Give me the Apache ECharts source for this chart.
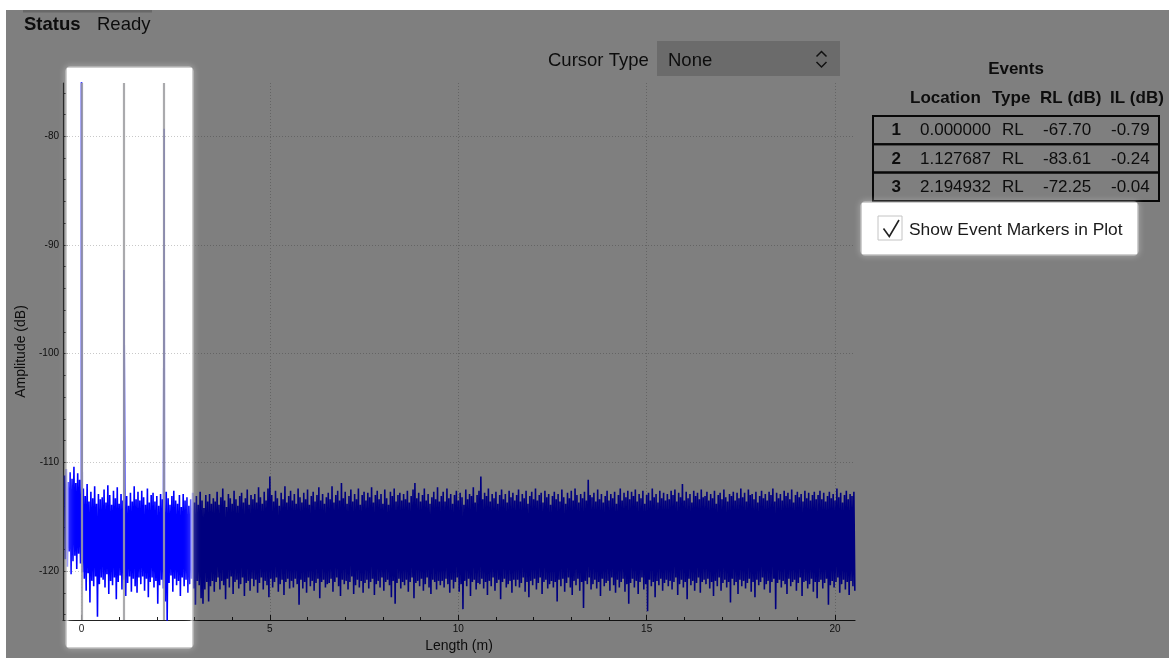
<!DOCTYPE html>
<html><head><meta charset="utf-8">
<script src="https://cdn.jsdelivr.net/npm/echarts@6/dist/echarts.min.js"></script>
<style>html,body{margin:0;padding:0;background:#fff;}#c{width:1169px;height:658px;}</style>
</head><body><div id="c"></div>
<script>
// ---- data ----
const startX = -0.45;   // first sample position (m)
const stepX = 0.05;     // sample spacing (m)
// upper excursion of the trace in each sample slot (dB)
const hi = [
-111.2,-110.6,-111.8,-110.9,-111.5,-110.4,-111.9,-111.0,-111.6,-112.2,-112.4,-113.1,-112.0,-113.6,-112.7,-113.3,-112.2,-113.8,-112.9,-113.4,
-113.2,-112.5,-113.7,-112.1,-113.0,-113.9,-112.6,-113.3,-112.3,-113.8,-112.9,-113.5,-112.4,-113.1,-114.0,-112.8,-113.6,-112.2,-113.4,-112.7,
-113.5,-112.6,-113.2,-113.9,-112.4,-113.7,-113.0,-112.8,-113.6,-113.1,-114.0,-112.9,-113.4,-113.8,-112.7,-113.3,-113.9,-113.1,-112.6,-113.5,
-113.8,-113.0,-114.1,-112.9,-113.5,-113.2,-114.0,-113.4,-112.8,-113.7,-113.1,-113.9,-112.7,-113.5,-114.2,-113.0,-113.6,-112.9,-113.8,-113.3,
-113.6,-112.7,-113.9,-113.2,-112.4,-113.5,-114.1,-112.9,-113.3,-113.8,-112.6,-113.4,-114.0,-113.1,-112.8,-113.7,-113.3,-112.5,-113.9,-113.0,
-113.4,-112.9,-113.7,-112.3,-113.2,-113.8,-112.7,-113.5,-112.4,-111.3,-113.0,-113.6,-112.6,-113.3,-114.0,-112.8,-113.4,-112.2,-113.7,-113.1,
-112.6,-113.5,-112.9,-113.8,-112.4,-113.2,-113.7,-112.8,-113.4,-112.5,-113.9,-113.1,-112.7,-113.6,-113.0,-112.3,-113.5,-112.9,-113.8,-113.2,
-112.8,-113.4,-112.2,-113.7,-113.0,-112.6,-113.5,-111.9,-113.3,-112.7,-113.8,-113.1,-112.5,-113.6,-112.9,-113.4,-112.4,-113.9,-113.0,-112.7,
-113.5,-112.8,-113.2,-112.3,-113.7,-113.0,-112.6,-113.4,-112.9,-113.8,-112.5,-113.3,-113.9,-112.7,-113.1,-112.4,-113.6,-113.0,-112.8,-113.5,
-112.9,-113.4,-112.6,-113.7,-113.1,-112.5,-111.9,-113.3,-112.8,-113.6,-113.0,-112.4,-113.5,-112.9,-113.8,-113.2,-112.7,-113.4,-112.3,-113.6,
-113.1,-112.7,-113.6,-112.4,-113.3,-112.9,-113.8,-113.0,-112.6,-113.5,-112.8,-113.2,-113.9,-112.5,-113.4,-112.9,-113.1,-112.3,-113.7,-113.0,
-112.6,-111.3,-113.4,-112.8,-113.1,-112.4,-113.6,-112.9,-113.3,-112.7,-113.8,-113.0,-112.5,-113.4,-112.9,-113.7,-112.6,-113.2,-112.8,-113.5,
-113.0,-112.5,-113.6,-112.9,-113.3,-112.6,-113.8,-113.1,-112.7,-113.4,-112.4,-113.5,-113.0,-112.8,-113.7,-112.6,-113.2,-112.9,-113.9,-113.1,
-112.7,-113.4,-112.9,-113.6,-112.5,-113.2,-113.8,-112.8,-113.3,-112.6,-113.5,-112.4,-113.0,-113.7,-112.9,-113.3,-112.7,-113.5,-111.6,-113.0,
-113.2,-112.8,-113.6,-112.5,-113.4,-112.9,-113.7,-113.1,-112.6,-113.5,-112.9,-113.3,-112.7,-113.8,-113.0,-112.4,-113.5,-112.8,-113.2,-112.6,
-113.4,-112.7,-113.1,-112.5,-113.6,-112.9,-113.3,-112.6,-113.8,-113.0,-112.8,-113.5,-112.4,-113.2,-112.9,-113.7,-112.6,-113.3,-112.8,-113.5,
-112.9,-113.4,-112.6,-113.0,-112.5,-113.6,-112.8,-113.2,-112.0,-113.5,-112.7,-113.3,-112.9,-113.7,-112.6,-113.1,-112.8,-113.4,-112.5,-113.2,
-113.1,-112.7,-113.5,-112.9,-113.3,-112.6,-113.8,-113.0,-112.8,-113.4,-112.5,-113.2,-113.6,-112.9,-113.1,-112.7,-113.5,-112.8,-113.3,-112.4,
-113.2,-112.8,-113.6,-112.5,-113.0,-112.9,-113.4,-112.7,-113.7,-113.1,-112.6,-113.3,-112.9,-113.5,-112.7,-113.0,-112.4,-113.6,-112.8,-113.3,
-112.9,-113.5,-112.6,-113.1,-112.8,-113.4,-112.5,-113.7,-113.0,-112.7,-113.2,-112.9,-113.6,-112.6,-113.3,-112.8,-113.5,-113.0,-112.7,-113.4,
-113.0,-112.6,-113.4,-112.8,-113.6,-113.1,-112.7,-113.3,-112.9,-113.5,-112.4,-113.2,-112.8,-113.7,-113.0,-112.6,-113.4,-112.9,-113.1,-112.7
];
// lower excursion of the trace in each sample slot (dB)
const lo = [
-118.9,-119.6,-118.2,-120.3,-119.1,-118.6,-119.8,-118.4,-119.3,-120.1,-120.7,-121.8,-120.2,-122.9,-120.9,-121.4,-120.5,-124.2,-121.2,-120.6,
-120.8,-121.5,-120.3,-122.1,-120.9,-121.3,-120.6,-122.6,-121.0,-120.4,-121.7,-120.8,-122.3,-121.1,-120.5,-121.9,-120.7,-121.4,-122.0,-120.6,
-121.2,-120.5,-121.8,-120.7,-122.4,-121.0,-120.6,-121.5,-120.9,-123.0,-121.3,-120.8,-121.6,-122.8,-124.6,-121.1,-120.4,-121.9,-120.7,-121.3,
-120.9,-122.3,-120.6,-121.4,-120.8,-122.0,-121.2,-120.7,-121.6,-123.1,-120.9,-121.3,-122.5,-123.0,-121.7,-121.0,-122.8,-121.4,-120.9,-121.9,
-121.0,-120.6,-121.7,-120.9,-121.3,-122.6,-120.7,-121.5,-120.5,-122.1,-121.0,-120.8,-121.6,-121.2,-120.6,-122.3,-121.1,-120.9,-121.8,-120.7,
-121.4,-120.8,-122.0,-121.1,-120.6,-121.7,-120.9,-121.3,-122.4,-120.7,-121.5,-121.0,-120.6,-121.9,-121.2,-120.8,-122.2,-121.0,-120.7,-121.6,
-120.9,-121.5,-120.7,-121.2,-123.1,-120.8,-121.6,-121.0,-122.0,-120.6,-121.4,-120.9,-121.8,-121.1,-120.7,-122.5,-121.0,-120.8,-121.5,-121.2,
-121.1,-120.7,-121.9,-121.0,-120.6,-121.4,-122.3,-120.8,-121.2,-120.9,-121.7,-121.0,-120.5,-122.1,-121.3,-120.8,-121.5,-120.9,-122.0,-121.1,
-120.8,-121.6,-121.0,-120.7,-122.2,-121.2,-120.9,-121.5,-120.6,-121.8,-121.0,-120.8,-121.3,-122.4,-120.9,-123.0,-121.1,-120.7,-121.6,-121.0,
-121.3,-120.8,-121.9,-121.0,-120.6,-122.5,-121.1,-120.9,-121.4,-120.7,-121.8,-121.2,-120.6,-121.5,-122.1,-120.8,-121.0,-121.7,-120.9,-121.3,
-120.9,-121.5,-120.7,-121.2,-122.0,-120.8,-121.6,-121.0,-120.6,-121.9,-121.2,-123.5,-120.9,-121.4,-120.7,-122.3,-121.0,-120.8,-121.7,-121.1,
-121.2,-120.7,-121.6,-121.0,-122.2,-120.9,-121.4,-120.6,-121.8,-121.1,-120.8,-122.6,-121.0,-120.7,-121.5,-121.2,-120.9,-122.0,-120.8,-121.4,
-120.8,-121.5,-121.1,-120.6,-121.9,-121.0,-122.4,-120.9,-121.3,-120.7,-121.7,-121.1,-120.6,-122.1,-121.0,-120.8,-121.6,-121.2,-120.9,-121.5,
-121.0,-122.8,-120.8,-121.4,-120.7,-121.9,-121.1,-120.6,-121.5,-122.2,-120.9,-121.3,-120.7,-121.8,-121.0,-123.4,-120.9,-121.2,-120.6,-121.7,
-121.2,-120.8,-121.6,-121.0,-122.3,-120.7,-121.4,-121.1,-120.9,-121.8,-120.6,-121.3,-122.0,-120.8,-121.5,-121.0,-120.7,-121.9,-121.2,-123.0,
-121.1,-120.7,-121.5,-120.9,-122.1,-121.0,-120.6,-121.7,-121.2,-123.7,-120.8,-121.4,-121.0,-122.4,-120.9,-121.3,-120.7,-121.8,-121.1,-120.8,
-121.4,-120.9,-121.7,-121.0,-120.6,-122.2,-121.2,-120.8,-121.5,-121.0,-122.6,-120.7,-121.3,-120.9,-121.8,-121.1,-120.6,-122.0,-121.0,-120.8,
-121.2,-120.7,-121.6,-121.0,-122.3,-120.9,-121.4,-120.6,-121.8,-121.1,-120.8,-121.5,-121.0,-122.9,-120.7,-121.3,-121.0,-122.1,-120.8,-121.4,
-120.9,-121.6,-121.1,-120.7,-121.9,-121.0,-122.4,-120.8,-121.3,-121.0,-120.6,-121.7,-121.2,-120.9,-122.0,-121.0,-120.7,-123.5,-121.1,-120.8,
-121.5,-120.9,-121.2,-122.1,-120.7,-121.4,-121.0,-120.8,-121.8,-121.1,-120.6,-122.3,-121.0,-120.9,-121.6,-121.2,-120.7,-121.9,-121.0,-122.5,
-121.0,-120.8,-121.6,-121.1,-120.7,-123.1,-121.3,-120.9,-121.5,-121.0,-120.6,-122.0,-121.2,-120.8,-121.7,-121.0,-122.2,-120.9,-121.4,-121.8
];
// events
const eventNo = ['1', '2', '3'];
const eventLoc = [0.000000, 1.127687, 2.194932];
const eventLocText = ['0.000000', '1.127687', '2.194932'];
const eventType = ['RL', 'RL', 'RL'];
const eventRL = ['-67.70', '-83.61', '-72.25'];
const eventIL = ['-0.79', '-0.24', '-0.04'];
const eventPeak = [-67.70, -92.3, -79.3];   // trace peak seen at each event
// axis ticks
const xTicks = [0, 5, 10, 15, 20];
const xMinorTicks = [1, 2, 3, 4, 6, 7, 8, 9, 11, 12, 13, 14, 16, 17, 18, 19];
const yTicks = [-120, -110, -100, -90, -80];
const yMinorTicks = [-124, -122, -118, -116, -114, -112, -108, -106, -104, -102, -98, -96, -94, -92, -88, -86, -84, -82, -78, -76];
const xMin = -0.49, xMax = 20.53, yMin = -124.5, yMax = -75.1;

// ---- build series ----
const pts = [];
const n = Math.min(hi.length, lo.length);
for (let i = 0; i < n; i++) {
  const x = startX + i * stepX;
  pts.push([+x.toFixed(4), hi[i]]);
  pts.push([+(x + stepX / 2).toFixed(4), lo[i]]);
}
eventLoc.forEach((x, k) => pts.push([x, eventPeak[k]]));
pts.sort((a, b) => a[0] - b[0]);

const F = '"Liberation Sans", Arial, sans-serif';
function txt(text, x, y, size, bold, align) {
  return { type: 'text', z: 1, silent: true,
    style: { text: text, x: x, y: y, font: (bold ? 'bold ' : '') + size + 'px ' + F,
      fill: '#1a1a1a', textAlign: align || 'left', textVerticalAlign: 'middle' } };
}
const gfx = [];
// top tab bar, status
gfx.push({ type: 'rect', z: 1, silent: true, shape: { x: 23, y: 10, width: 129, height: 2.5 }, style: { fill: '#d0d0d0' } });
gfx.push(txt('Status', 24, 24.5, 18.5, true));
gfx.push(txt('Ready', 97, 24.5, 18.5, false));
// cursor type combobox
gfx.push(txt('Cursor Type', 548, 60.5, 18.5, false));
gfx.push({ type: 'rect', z: 1, silent: true, shape: { x: 657, y: 41, width: 183, height: 35 }, style: { fill: '#d6d6d6' } });
gfx.push(txt('None', 668, 60.5, 18.5, false));
gfx.push({ type: 'polyline', z: 1, silent: true, shape: { points: [[816.5, 56.5], [821.5, 51.5], [826.5, 56.5]] }, style: { stroke: '#222', lineWidth: 1.5, fill: 'none' } });
gfx.push({ type: 'polyline', z: 1, silent: true, shape: { points: [[816.5, 62], [821.5, 67], [826.5, 62]] }, style: { stroke: '#222', lineWidth: 1.5, fill: 'none' } });
// events table
gfx.push(txt('Events', 1016, 69.5, 17, true, 'center'));
gfx.push(txt('Location', 910, 98, 17, true));
gfx.push(txt('Type', 992, 98, 17, true));
gfx.push(txt('RL (dB)', 1040, 98, 17, true));
gfx.push(txt('IL (dB)', 1110, 98, 17, true));
for (let k = 0; k < eventNo.length; k++) {
  const top = 116 + k * 28.3, cy = top + 14.8;
  gfx.push({ type: 'rect', z: 1, silent: true, shape: { x: 873, y: top, width: 286, height: 28.3 }, style: { fill: 'none', stroke: '#111', lineWidth: 2 } });
  gfx.push(txt(eventNo[k], 901, cy, 17, true, 'right'));
  gfx.push(txt(eventLocText[k], 920, cy, 17, false));
  gfx.push(txt(eventType[k], 1002, cy, 17, false));
  gfx.push(txt(eventRL[k], 1043, cy, 17, false));
  gfx.push(txt(eventIL[k], 1111, cy, 17, false));
}
// checkbox
gfx.push({ type: 'rect', z: 1, silent: true, shape: { x: 878, y: 216, width: 24, height: 24 }, style: { fill: '#fff', stroke: '#c4c4c4', lineWidth: 1 } });
gfx.push({ type: 'polyline', z: 1, silent: true, shape: { points: [[883.5, 228.5], [889.3, 236.5], [899, 220]] }, style: { stroke: '#222', lineWidth: 1.6, fill: 'none' } });
gfx.push(txt('Show Event Markers in Plot', 909, 230, 17.4, false));
// dimming overlay (complement of the two highlighted boxes)
const dim = 'rgba(0,0,0,0.5)';
[[6, 10, 61, 648], [67, 10, 125, 58], [67, 647, 125, 11], [192, 10, 670, 648],
 [862, 10, 275, 193], [862, 254, 275, 404], [1137, 10, 32, 648]].forEach(r => {
  gfx.push({ type: 'rect', z: 100, silent: true, shape: { x: r[0], y: r[1], width: r[2], height: r[3] }, style: { fill: dim } });
});
// soft glow on highlight edges
[[67, 68, 125, 579], [862, 203, 275, 51]].forEach(r => {
  gfx.push({ type: 'rect', z: 101, silent: true, shape: { x: r[0], y: r[1], width: r[2], height: r[3], r: 3 },
    style: { fill: 'none', stroke: 'rgba(255,255,255,0.55)', lineWidth: 3, shadowBlur: 6, shadowColor: 'rgba(255,255,255,0.9)' } });
});

const axisLbl = { fontFamily: F, fontSize: 10, color: '#222' };
const chart = echarts.init(document.getElementById('c'), null, { renderer: 'canvas' });
chart.setOption({
  animation: false,
  backgroundColor: '#ffffff',
  grid: { left: 63, right: 314, top: 83, bottom: 32, containLabel: false },
  xAxis: [{
    type: 'value', min: xMin, max: xMax, position: 'bottom',
    name: 'Length (m)', nameLocation: 'middle', nameGap: 19,
    nameTextStyle: { fontFamily: F, fontSize: 14, color: '#1a1a1a' },
    axisLine: { show: true, onZero: false, lineStyle: { color: '#222', width: 1.2 } },
    axisTick: { show: true, inside: true, length: 5, customValues: xTicks, lineStyle: { color: '#222' } },
    axisLabel: Object.assign({ customValues: xTicks, margin: 4 }, axisLbl),
    splitLine: { show: true, lineStyle: { color: '#c8c8c8', type: [1, 2], width: 1 } }
  }, {
    type: 'value', min: xMin, max: xMax, position: 'bottom',
    axisLine: { show: false, onZero: false },
    axisTick: { show: true, inside: true, length: 3, customValues: xMinorTicks, lineStyle: { color: '#222' } },
    axisLabel: { show: false }, splitLine: { show: false }
  }],
  yAxis: [{
    type: 'value', min: yMin, max: yMax, position: 'left',
    name: 'Amplitude (dB)', nameLocation: 'middle', nameGap: 33,
    nameTextStyle: { fontFamily: F, fontSize: 14, color: '#1a1a1a' },
    axisLine: { show: true, onZero: false, lineStyle: { color: '#222', width: 1.2 } },
    axisTick: { show: true, inside: true, length: 5, customValues: yTicks, lineStyle: { color: '#222' } },
    axisLabel: Object.assign({ customValues: yTicks, margin: 4 }, axisLbl),
    splitLine: { show: true, lineStyle: { color: '#c8c8c8', type: [1, 2], width: 1 } }
  }, {
    type: 'value', min: yMin, max: yMax, position: 'left',
    axisLine: { show: false, onZero: false },
    axisTick: { show: true, inside: true, length: 3, customValues: yMinorTicks, lineStyle: { color: '#222' } },
    axisLabel: { show: false }, splitLine: { show: false }
  }],
  series: [{
    type: 'line', xAxisIndex: 0, yAxisIndex: 0, data: pts, showSymbol: false, symbol: 'none',
    silent: true, clip: true, sampling: null, z: 2,
    lineStyle: { color: '#0000ff', width: 1.6 },
    markLine: {
      silent: true, symbol: ['none', 'none'], animation: false, z: 5,
      label: { show: false },
      lineStyle: { color: 'rgba(158,158,162,0.88)', width: 2.2, type: 'solid' },
      data: eventLoc.map(v => ({ xAxis: v }))
    }
  }],
  graphic: { elements: gfx }
});
</script>
</body></html>
